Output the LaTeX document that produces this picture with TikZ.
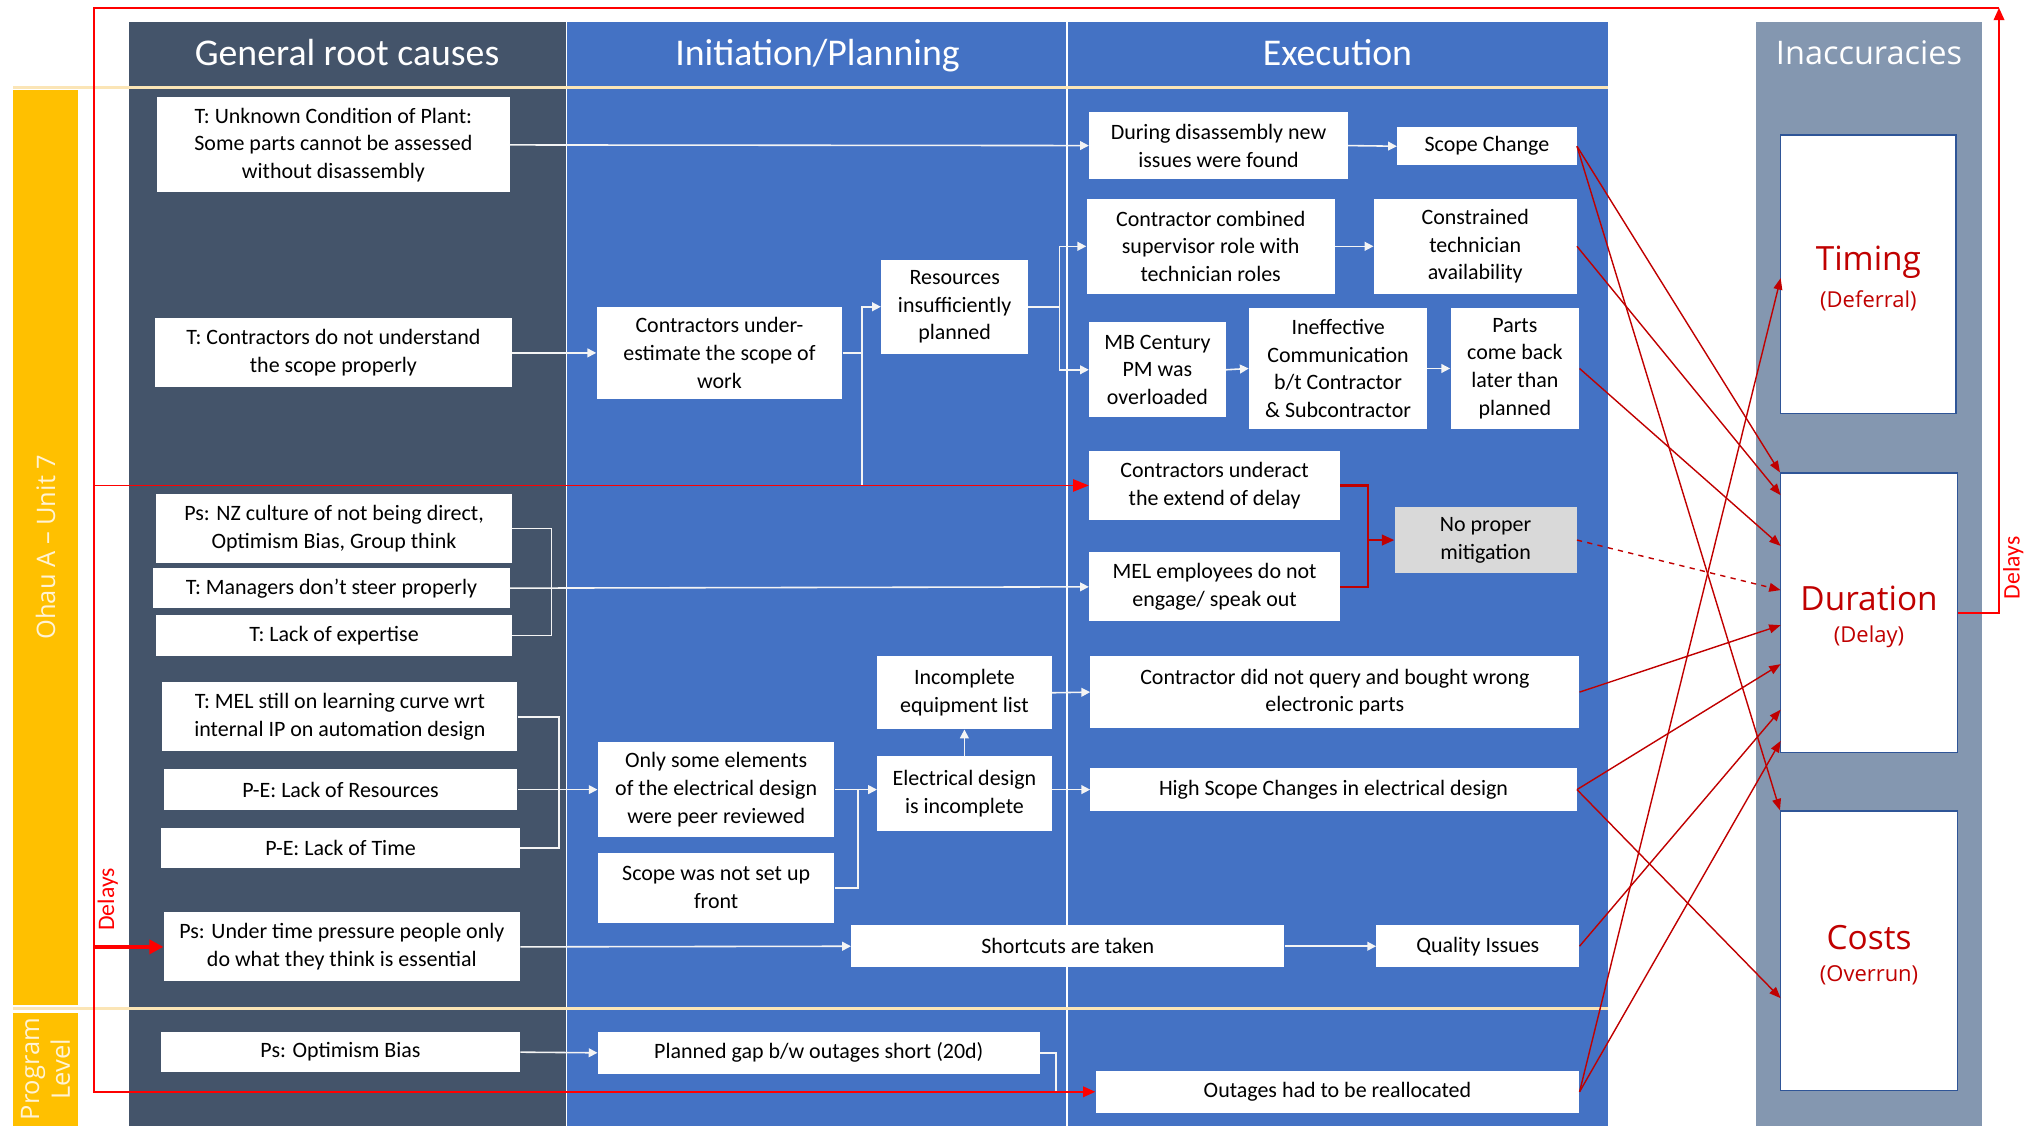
\documentclass[tikz,border=0pt]{standalone}
\usepackage{fontspec}
\setmainfont{Carlito}
\newfontfamily\segoe{Open Sans}
\usetikzlibrary{arrows.meta}

\definecolor{slatecol}{HTML}{44546A}
\definecolor{bluecol}{HTML}{4472C4}
\definecolor{inacccol}{HTML}{8497B0}
\definecolor{lanecol}{HTML}{FFC000}
\definecolor{lanetext}{HTML}{FFF3D6}
\definecolor{creamcol}{HTML}{FBE5B6}
\definecolor{greybox}{HTML}{D9D9D9}
\definecolor{resborder}{HTML}{2F5597}
\definecolor{darkred}{HTML}{C00000}
\definecolor{brightred}{HTML}{FF0000}
\definecolor{linkcol}{HTML}{F4F4F4}

\tikzset{
  box/.style={fill=white, inner sep=0pt, align=center, text=black,
    font=\fontsize{12.5}{15.8}\selectfont},
  greyfill/.style={fill=greybox},
  res/.style={fill=white, draw=resborder, line width=0.8pt, text=darkred, font=\segoe},
  hdr/.style={text=white, font=\fontsize{21.5}{24}\selectfont, inner sep=0pt, anchor=base},
  hdrsans/.style={text=white, font=\segoe\fontsize{18.5}{22}\selectfont, inner sep=0pt, anchor=base},
  lane/.style={fill=lanecol, text=lanetext, inner sep=0pt, align=center,
    font=\segoe\fontsize{14.5}{17.5}\selectfont, rotate=90},
  wc/.style={draw=linkcol, line width=0.9pt, -{Triangle[length=5pt,width=5pt]}},
  wl/.style={draw=linkcol, line width=0.9pt},
  rf/.style={draw=brightred, line width=1.1pt},
  rtip/.style={-{Triangle[length=7pt,width=6pt]}},
  dr/.style={draw=darkred, line width=1.2pt},
  ra/.style={draw=darkred, line width=0.8pt, -{Triangle[length=6.5pt,width=5pt]}},
  dlabel/.style={text=brightred, rotate=90, inner sep=0pt, font=\fontsize{13.5}{16}\selectfont},
}

% box from its corner coordinates (x1,y1)-(x2,y2)
\newcommand\bx[7][]{%
  \pgfmathsetmacro\bxcx{(#3+#5)/2}%
  \pgfmathsetmacro\bxcy{(#4+#6)/2}%
  \pgfmathsetmacro\bxw{(#5-#3)*0.026}%
  \pgfmathsetmacro\bxh{(#6-#4)*0.026}%
  \node[box,minimum width=\bxw cm,minimum height=\bxh cm,#1] (#2) at (\bxcx,\bxcy) {#7};}

\newcommand\restext[2]{{\fontsize{19}{22}\selectfont\rule{0pt}{18.5pt}#1}\\[6pt]{\fontsize{12.5}{15}\selectfont #2}}

\begin{document}
\begin{tikzpicture}[x=0.026cm, y=-0.026cm]
\useasboundingbox (0,0) rectangle (1568,866);

% column backgrounds
\fill[slatecol] (99,17) rectangle (436,866);
\fill[bluecol] (436,17) rectangle (1237,866);
\fill[inacccol] (1351,17) rectangle (1525,866);
\draw[white, line width=0.8pt] (436,17) -- (436,866);
\draw[white, line width=0.8pt] (821,17) -- (821,866);
\draw[creamcol, line width=1.8pt] (10,67) -- (1237,67);
\draw[creamcol, line width=1.8pt] (10,776) -- (1237,776);

% lanes
\node[lane, minimum width=18.3cm, minimum height=1.3cm] (ohau) at (35,421) {Ohau A – Unit 7};
\node[lane, minimum width=2.26cm, minimum height=1.3cm] (prog) at (35,822.5) {Program\\Level};

% headers
\node[hdr] (h1) at (267,50.5) {General root causes};
\node[hdr] (h2) at (629,50.5) {Initiation/Planning};
\node[hdr] (h3) at (1029,50.5) {Execution};
\node[hdrsans] (h4) at (1438,50) {Inaccuracies};

% general root causes
\bx{b1}{121}{75}{392}{148}{T: Unknown Condition of Plant:\\Some parts cannot be assessed\\without disassembly}
\bx{b2}{119}{245}{394}{298}{T: Contractors do not understand\\the scope properly}
\bx{b3}{120}{380}{394}{433}{Ps: NZ culture of not being direct,\\Optimism Bias, Group think}
\bx{b4}{118}{437}{392}{468}{T: Managers don’t steer properly}
\bx{b5}{120}{473}{394}{505}{T: Lack of expertise}
\bx{b6}{125}{525}{398}{578}{T: MEL still on learning curve wrt\\internal IP on automation design}
\bx{b7}{126}{592}{398}{623}{P-E: Lack of Resources}
\bx{b8}{124}{637}{400}{668}{P-E: Lack of Time}
\bx{b9}{126}{702}{400}{755}{Ps: Under time pressure people only\\do what they think is essential}
\bx{b10}{124}{794}{400}{825}{Ps: Optimism Bias}

% initiation / planning
\bx{b11}{459}{236}{648}{307}{Contractors under-\\estimate the scope of\\work}
\bx{b12}{678}{200}{791}{272}{Resources\\insufficiently\\planned}
\bx{b13}{675}{505}{809}{561}{Incomplete\\equipment list}
\bx{b14}{460}{571}{642}{644}{Only some elements\\of the electrical design\\were peer reviewed}
\bx{b15}{675}{582}{809}{639}{Electrical design\\is incomplete}
\bx{b16}{460}{656}{642}{710}{Scope was not set up\\front}
\bx{b17}{655}{712}{988}{744}{Shortcuts are taken}
\bx{b18}{460}{794}{800}{826}{Planned gap b/w outages short (20d)}

% execution
\bx{b19}{838}{86}{1037}{138}{During disassembly new\\issues were found}
\bx{b20}{1075}{98}{1213}{127}{Scope Change}
\bx{b21}{836}{153}{1027}{226}{Contractor combined\\supervisor role with\\technician roles}
\bx{b22}{1057}{153}{1213}{226}{Constrained\\technician\\availability}
\bx{b23}{838}{248}{943}{321}{MB Century\\PM was\\overloaded}
\bx{b24}{961}{237}{1098}{330}{Ineffective\\Communication\\b/t Contractor\\\& Subcontractor}
\bx{b25}{1116}{237}{1215}{330}{Parts\\come back\\later than\\planned}
\bx{b26}{838}{347}{1031}{400}{Contractors underact\\the extend of delay}
\bx[greyfill]{b27}{1073}{390}{1213}{441}{No proper\\mitigation}
\bx{b28}{838}{425}{1031}{478}{MEL employees do not\\engage/ speak out}
\bx{b29}{839}{505}{1215}{560}{Contractor did not query and bought wrong\\electronic parts}
\bx{b30}{839}{591}{1213}{624}{High Scope Changes in electrical design}
\bx{b31}{1059}{712}{1215}{744}{Quality Issues}
\bx{b32}{843}{824}{1215}{856}{Outages had to be reallocated}

% inaccuracies
\bx[res]{tim}{1370}{104}{1505}{318}{\restext{Timing}{(Deferral)}}
\bx[res]{dur}{1370}{364}{1506}{579}{\restext{Duration}{(Delay)}}
\bx[res]{cst}{1370}{624}{1506}{839}{\restext{Costs}{(Overrun)}}

% white cause-effect links
\draw[wc] (b1.east) -- (b19.west);
\draw[wc] (b19.east) -- (b20.west);
\draw[wc] (b2.east) -- (b11.west);
\path (b11.east) ++(15,0) coordinate (j1);
\draw[wc] (b11.east) -- (j1) |- (b12.west);
\draw[wl] (j1) -- (j1 |- b26.west);
\path (b12.east) ++(24,0) coordinate (j2);
\draw[wl] (b12.east) -- (j2);
\draw[wc] (j2) |- (b21.west);
\draw[wc] (j2) |- (b23.west);
\draw[wc] (b21.east) -- (b22.west);
\draw[wc] (b23.east) -- (b24.west);
\draw[wc] (b24.east) -- (b25.west);
\draw[wl] (b3.east) -- ++(30,0) |- (b5.east);
\draw[wc] (b4.east) -- (b28.west);
\draw[wl] (b6.east) -- ++(32,0) |- (b8.east);
\draw[wc] (b7.east) -- (b14.west);
\path (b14.east) ++(18,0) coordinate (j3);
\draw[wc] (b14.east) -- (b14.east -| b15.west);
\draw[wl] (b16.east) -| (j3);
\draw[wc] (b15.north) -- (b13.south);
\draw[wc] (b13.east) -- (b29.west);
\draw[wc] (b15.east |- b30.west) -- (b30.west);
\draw[wc] (b9.east) -- (b17.west);
\draw[wc] (b17.east) -- (b31.west);
\draw[wc] (b10.east) -- (b18.west);
\path (b18.east) ++(12,0) coordinate (j5);
\draw[wl] (b18.east) -- (j5) -- (j5 |- b32.west);

% delay feedback frame
\coordinate (tr) at (1538,6);
\coordinate (tl) at (72,6);
\coordinate (bl) at (72,840);
\draw[rf, rtip] (dur.east) -| (tr);
\draw[rf, rtip] (tr) -- (tl) -- (bl) -- (b32.west);
\draw[rf, -{Triangle[length=9pt,width=7pt]}] (tl |- b26.west) -- (b26.west);
\draw[rf, line width=2.2pt, -{Triangle[length=8pt,width=8pt]}] (tl |- b9.west) -- (b9.west);
\node[dlabel] (dl1) at (1549,437) {Delays};
\node[dlabel] (dl2) at (83,692) {Delays};

% missing mitigation
\path (b26.east) ++(21,0) coordinate (j4);
\draw[dr] (b26.east) -- (j4) |- (b28.east);
\draw[dr, -{Triangle[length=7pt,width=6pt]}] (j4 |- b27.west) -- (b27.west);

% effects on the inaccuracies
\coordinate (d2) at (1370,381);
\coordinate (d3) at (1370,420);
\coordinate (d4) at (1370,454);
\coordinate (d5) at (1370,481);
\coordinate (d6) at (1370,511);
\coordinate (d7) at (1370,546);
\coordinate (d8) at (1370,570);
\coordinate (c2) at (1370,768);
\coordinate (t1) at (1370,214);
\draw[ra] (b20.east) -- (dur.north west);
\draw[ra] (b20.east) -- (cst.north west);
\draw[ra] (b22.east) -- (d2);
\draw[ra] (b25.east) -- (d3);
\draw[ra, dashed] (b27.east) -- (d4);
\draw[ra] (b29.east) -- (d5);
\draw[ra] (b30.east) -- (d6);
\draw[ra] (b30.east) -- (c2);
\draw[ra] (b31.east) -- (d7);
\draw[ra] (b32.east) -- (d8);
\draw[ra] (b32.east) -- (t1);
\end{tikzpicture}
\end{document}
